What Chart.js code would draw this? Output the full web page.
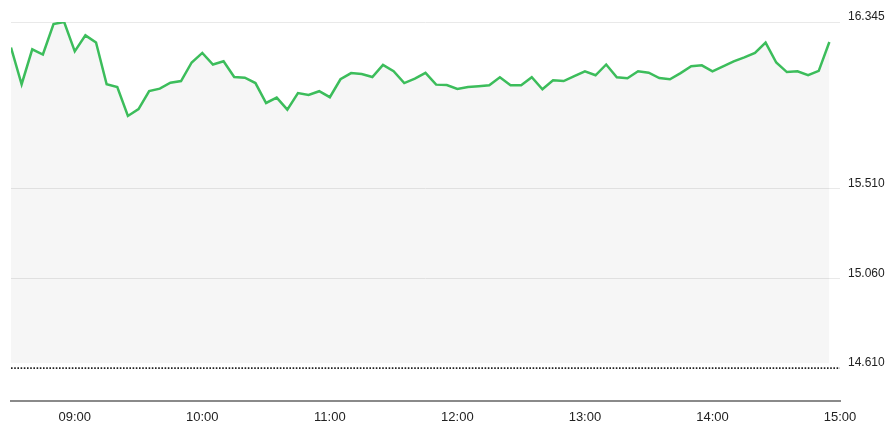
<!DOCTYPE html>
<html lang="en">
<head>
  <meta charset="UTF-8">
  <title>Intraday</title>
  <style>
    html, body {
      margin: 0;
      padding: 0;
      background: #fff;
    }
    .chart-wrap {
      width: 886px;
      height: 424px;
    }
  </style>
  <script src="https://cdn.jsdelivr.net/npm/chart.js"></script>
</head>
<body>
  <div class="chart-wrap">
    <canvas id="priceChart" width="886" height="424"></canvas>
  </div>

<script>
// session: 08:30 to 15:00, one price every 5 minutes (minutes since midnight)
const startMinute = 510;
const stepMinutes = 5;
const endMinute = 900;

const prices = [
  16.217, 16.033, 16.208, 16.182, 16.335, 16.345, 16.198, 16.278, 16.242, 16.033,
  16.019, 15.874, 15.908, 15.999, 16.011, 16.041, 16.049, 16.142, 16.190, 16.132,
  16.148, 16.069, 16.066, 16.039, 15.939, 15.966, 15.906, 15.989, 15.979, 15.998,
  15.968, 16.058, 16.089, 16.084, 16.069, 16.130, 16.098, 16.039, 16.061, 16.090,
  16.031, 16.029, 16.009, 16.019, 16.023, 16.028, 16.068, 16.028, 16.028, 16.068,
  16.008, 16.053, 16.049, 16.074, 16.098, 16.078, 16.132, 16.068, 16.063, 16.098,
  16.091, 16.064, 16.058, 16.089, 16.123, 16.128, 16.098, 16.123, 16.148, 16.168,
  16.190, 16.242, 16.142, 16.094, 16.098, 16.078, 16.100, 16.245
];

const prevClose = 14.610;
const yTicks = [14.610, 15.060, 15.510, 16.345];
const hourTicks = [540, 600, 660, 720, 780, 840, 900];

const priceData = prices.map((p, i) => ({ x: startMinute + i * stepMinutes, y: p }));
const closeData = [{ x: startMinute, y: prevClose }, { x: endMinute, y: prevClose }];

function hhmm(m) {
  const h = Math.floor(m / 60);
  const mm = m % 60;
  return String(h).padStart(2, '0') + ':' + String(mm).padStart(2, '0');
}

const ctx = document.getElementById('priceChart').getContext('2d');
const chart = new Chart(ctx, {
  type: 'line',
  data: {
    datasets: [
      {
        label: 'Price',
        data: priceData,
        borderColor: '#3cbd5b',
        borderWidth: 2.5,
        backgroundColor: 'rgba(0, 0, 0, 0.037)',
        fill: { value: 14.635 },
        pointRadius: 0,
        tension: 0
      },
      {
        label: 'Previous close',
        data: closeData,
        borderColor: '#222',
        borderWidth: 1.6,
        borderDash: [1.6, 1.6],
        fill: false,
        pointRadius: 0
      }
    ]
  },
  options: {
    responsive: false,
    animation: false,
    layout: {
      padding: { left: 11, top: 22, right: 0, bottom: 0 }
    },
    plugins: {
      legend: { display: false },
      tooltip: { enabled: false }
    },
    scales: {
      x: {
        type: 'linear',
        min: startMinute,
        max: endMinute,
        afterBuildTicks: (scale) => {
          scale.ticks = hourTicks.map(v => ({ value: v }));
        },
        afterFit: (scale) => {
          scale.height = 23;
        },
        grid: { display: false, drawTicks: false },
        border: { display: true, color: '#8a8a8a', width: 2 },
        ticks: {
          autoSkip: false,
          maxRotation: 0,
          padding: 9,
          color: '#222',
          font: { family: 'Liberation Sans, Arial, sans-serif', size: 13 },
          callback: (v) => hhmm(v)
        }
      },
      y: {
        position: 'right',
        min: 14.445,
        max: 16.345,
        afterBuildTicks: (scale) => {
          scale.ticks = yTicks.map(v => ({ value: v }));
        },
        afterFit: (scale) => {
          scale.width = 46;
        },
        grid: {
          drawTicks: false,
          color: (c) => (c.tick && c.tick.value === prevClose) ? 'rgba(0,0,0,0)' : '#e9e9e9',
          lineWidth: 1
        },
        border: { display: false },
        ticks: {
          padding: 8,
          labelOffset: -5,
          color: '#222',
          font: { family: 'Liberation Sans, Arial, sans-serif', size: 12 },
          callback: (v) => Number(v).toFixed(3)
        }
      }
    }
  }
});
</script>
</body>
</html>
